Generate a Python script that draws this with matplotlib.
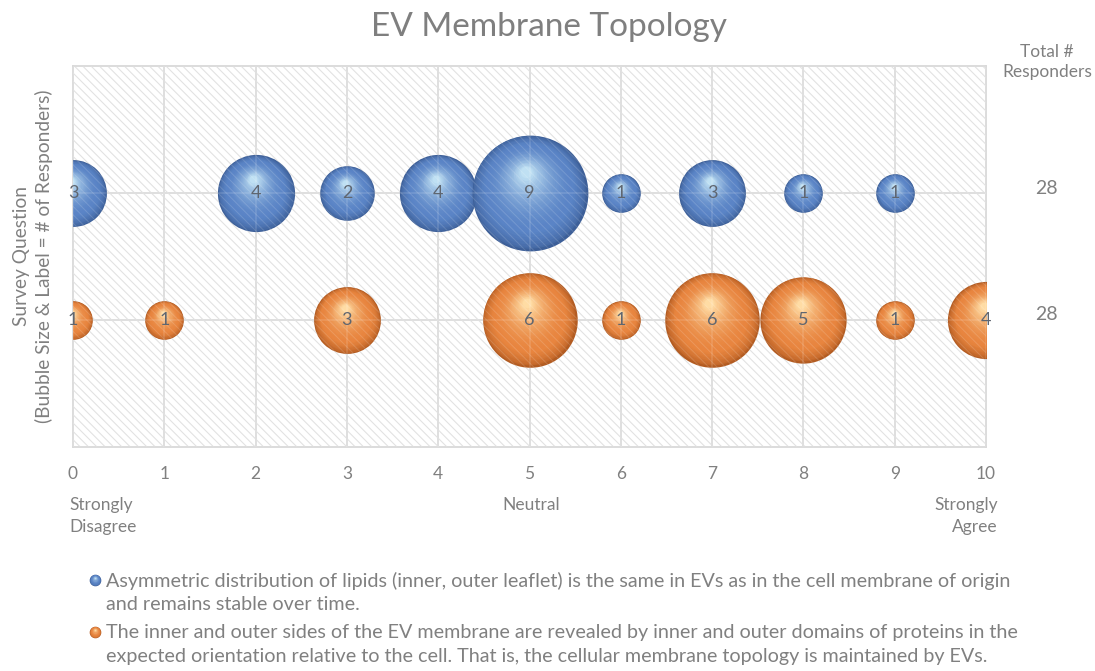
import numpy as np
import matplotlib
matplotlib.use('Agg')
import matplotlib.pyplot as plt
from matplotlib.colors import to_rgb
from matplotlib.patches import Rectangle
from matplotlib.transforms import ScaledTranslation, blended_transform_factory

plt.rcParams['font.family'] = ['Lato', 'DejaVu Sans']
plt.rcParams['hatch.linewidth'] = 0.7

# data
title = 'EV Membrane Topology'
scale_points = list(range(11))
scale_labels = {0: 'Strongly\nDisagree', 5: 'Neutral', 10: 'Strongly\nAgree'}
question_rows = [2, 1]
question_texts = [
    'Asymmetric distribution of lipids (inner, outer leaflet) is the same in EVs as in the cell membrane of origin\n'
    'and remains stable over time.',
    'The inner and outer sides of the EV membrane are revealed by inner and outer domains of proteins in the\n'
    'expected orientation relative to the cell. That is, the cellular membrane topology is maintained by EVs.',
]
lipid_x = [0, 2, 3, 4, 5, 6, 7, 8, 9]
lipid_n = [3, 4, 2, 4, 9, 1, 3, 1, 1]
protein_x = [0, 1, 3, 5, 6, 7, 8, 9, 10]
protein_n = [1, 1, 3, 6, 1, 6, 5, 1, 4]

# sphere colours (rim, body, highlight)
blue = ['#3d5f98', '#5a84c6', '#bfe0f3']
orange = ['#b35c22', '#e8853f', '#ffdca4']
grey = '#808080'

W, H = 1095, 671
SIZE_PER = 772  # marker area (pt^2) per responder


def mix(a, b, t):
    a, b = np.array(to_rgb(a)), np.array(to_rgb(b))
    return tuple(a + (b - a) * t)


def spheres(ax, xs, ys, sizes, cols, layers=32, zorder=3):
    rim, body, hi = cols
    for x, y, s in zip(xs, ys, sizes):
        r = np.sqrt(s) / 2
        for i in range(layers):
            t = i / (layers - 1)
            k = 1 - 0.9 * t
            if t < 0.25:
                c = mix(rim, body, (t / 0.25) ** 0.6)
            else:
                c = mix(body, hi, ((t - 0.25) / 0.75) ** 1.8)
            off = ScaledTranslation(-0.06 * t * r / 72, 0.36 * t * r / 72, ax.figure.dpi_scale_trans)
            ax.scatter([x], [y], s=s * k ** 2, color=[c], linewidths=0,
                       transform=ax.transData + off, zorder=zorder)


fig = plt.figure(figsize=(W / 100, H / 100), dpi=100)
ax = fig.add_axes([73 / W, 1 - 447 / H, (986 - 73) / W, (447 - 66) / H])
ax.set_xlim(0, 10)
ax.set_ylim(0, 3)

# hatched plot area
ax.add_patch(Rectangle((0, 0), 1, 1, transform=ax.transAxes, facecolor='white',
                       edgecolor='#dcdcdc', hatch='\\\\\\\\', lw=0, zorder=0))
ax.set_axisbelow(True)
ax.grid(True, color='#d9d9d9', lw=1.3)
for sp in ax.spines.values():
    sp.set_color('#d9d9d9')
    sp.set_linewidth(1.3)

ax.set_xticks(scale_points)
ax.set_yticks([1, 2])
ax.set_yticklabels([])
ax.tick_params(length=0, labelsize=12.5, labelcolor=grey)
ax.tick_params(axis='x', pad=14)

spheres(ax, lipid_x, [question_rows[0]] * len(lipid_x), [SIZE_PER * n for n in lipid_n], blue)
spheres(ax, protein_x, [question_rows[1]] * len(protein_x), [SIZE_PER * n for n in protein_n], orange)

# faint stripes and grid showing through the bubbles
ax.add_patch(Rectangle((0, 0), 1, 1, transform=ax.transAxes, facecolor='none',
                       edgecolor=(1, 1, 1, 0.15), hatch='\\\\\\\\', lw=0, zorder=4))
for row in question_rows:
    ax.axhline(row, color='white', alpha=0.12, lw=1.3, zorder=4)
for x in scale_points:
    ax.axvline(x, color='white', alpha=0.12, lw=1.3, zorder=4)

for xs, ns, row in [(lipid_x, lipid_n, question_rows[0]), (protein_x, protein_n, question_rows[1])]:
    for x, n in zip(xs, ns):
        ax.text(x, row, str(n), ha='center', va='center', fontsize=13, color='#5f6670', zorder=6)

# totals on the right
tr = blended_transform_factory(fig.transFigure, ax.transData) + ScaledTranslation(0, 0.05, fig.dpi_scale_trans)
for row, ns in zip(question_rows, [lipid_n, protein_n]):
    ax.text(1046 / W, row, str(sum(ns)), transform=tr, ha='center', va='center',
            fontsize=14, color=grey)
fig.text(1047 / W, 1 - 62 / H, 'Total #\nResponders', ha='center', va='center',
         fontsize=12.5, color=grey, linespacing=1.3)

fig.text(549 / W, 1 - 27 / H, title, ha='center', va='center', fontsize=24, color='#7f7f7f')
fig.text(33 / W, 1 - 256 / H, 'Survey Question\n(Bubble Size & Label = # of Responders)',
         rotation=90, ha='center', va='center', fontsize=13.8, color=grey,
         multialignment='center', linespacing=1.3)

# scale anchors under the axis
fig.text(69 / W, 1 - 516 / H, scale_labels[0], ha='left', va='center', fontsize=12.5,
         color=grey, linespacing=1.45)
fig.text(531 / W, 1 - 505 / H, scale_labels[5], ha='center', va='center', fontsize=12.5,
         color=grey)
fig.text(998 / W, 1 - 516 / H, scale_labels[10], ha='right', va='center', fontsize=12.5,
         color=grey, linespacing=1.45, multialignment='right')

# legend
lax = fig.add_axes([0, 0, 1, 1], zorder=-1)
lax.set_xlim(0, W)
lax.set_ylim(H, 0)
lax.axis('off')
spheres(lax, [95], [580], [70], blue, layers=12)
spheres(lax, [95], [632], [70], orange, layers=12)
for yc, txt in zip([592.5, 644.5], question_texts):
    fig.text(106 / W, 1 - yc / H, txt, ha='left', va='center', fontsize=14.2, color=grey,
             linespacing=1.44)

fig.savefig('out.png', dpi=100)
